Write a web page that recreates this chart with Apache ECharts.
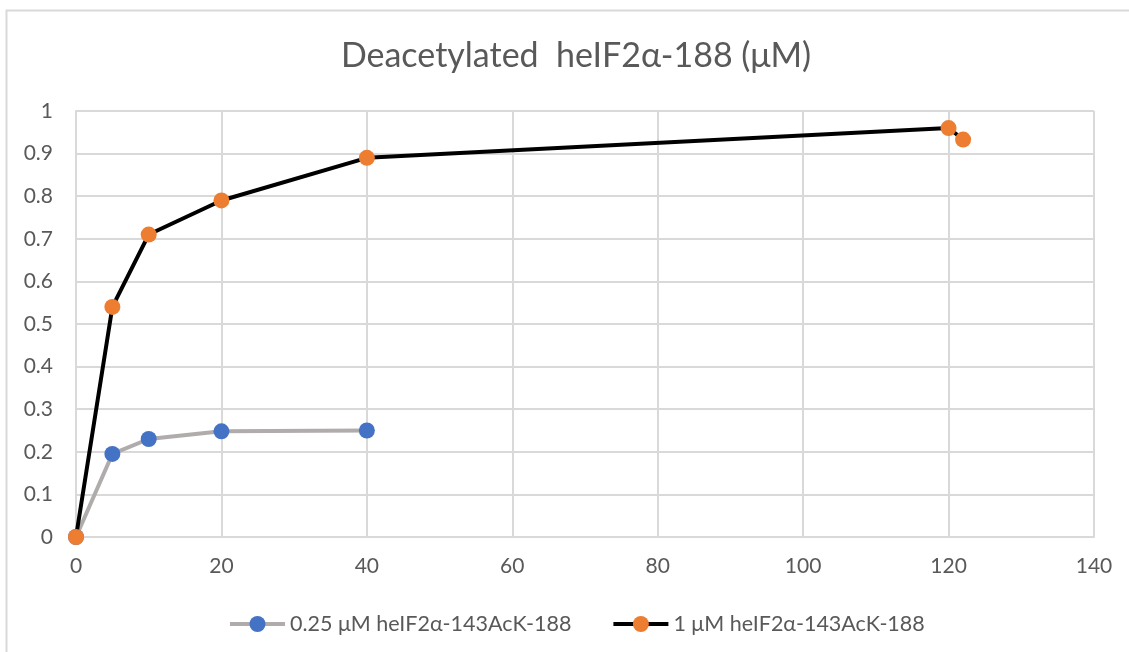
<!DOCTYPE html>
<html>
<head>
<meta charset="utf-8">
<script src="https://cdn.jsdelivr.net/npm/echarts@6/dist/echarts.min.js"></script>
<style>
  html, body { margin: 0; padding: 0; background: #fff; }
  #chart { width: 1129px; height: 652px; }
</style>
</head>
<body>
<div id="chart"></div>
<script>
// Time points (x) and deacetylated amounts (µM)
const lowTimes = [0, 5, 10, 20, 40];
const lowValues = [0, 0.195, 0.23, 0.248, 0.25];
const highTimes = [0, 5, 10, 20, 40, 120, 122];
const highValues = [0, 0.54, 0.71, 0.79, 0.89, 0.96, 0.933];

const titleText = 'Deacetylated  heIF2\u03B1-188 (\u03BCM)';
const lowName = '0.25 \u03BCM heIF2\u03B1-143AcK-188';
const highName = '1 \u03BCM heIF2\u03B1-143AcK-188';

const pairs = (xs, ys) => xs.map((x, i) => [x, ys[i]]);

const textColor = '#595959';
const gridColor = '#d9d9d9';
const font = 'Lato, Open Sans, sans-serif';

const chart = echarts.init(document.getElementById('chart'));
chart.setOption({
  animation: false,
  backgroundColor: '#fff',
  textStyle: { fontFamily: font },
  graphic: [{
    type: 'rect',
    shape: { x: 6.5, y: 10.5, width: 1140, height: 660 },
    style: { fill: 'none', stroke: '#d9d9d9', lineWidth: 2 },
    silent: true
  }],
  title: {
    text: titleText,
    left: 571,
    textAlign: 'center',
    top: 34,
    textStyle: { color: textColor, fontSize: 34, fontWeight: 'normal', fontFamily: font }
  },
  legend: {
    top: 608,
    left: 223,
    itemGap: 40,
    itemWidth: 55,
    itemHeight: 20,
    lineStyle: { width: 4 },
    textStyle: { color: textColor, fontSize: 21.5, fontFamily: font },
    data: [lowName, highName]
  },
  grid: { left: 76, right: 35, top: 111, bottom: 115, containLabel: false },
  xAxis: {
    type: 'value',
    min: 0, max: 140, interval: 20,
    axisLine: { show: true, lineStyle: { color: gridColor, width: 2 } },
    axisTick: { show: false },
    axisLabel: { color: textColor, fontSize: 21, margin: 19 },
    splitLine: { show: true, lineStyle: { color: gridColor, width: 2 } }
  },
  yAxis: {
    type: 'value',
    min: 0, max: 1, interval: 0.1,
    axisLine: { show: true, lineStyle: { color: gridColor, width: 2 } },
    axisTick: { show: false },
    axisLabel: { color: textColor, fontSize: 21, margin: 23 },
    splitLine: { show: true, lineStyle: { color: gridColor, width: 2 } }
  },
  series: [
    {
      name: lowName,
      type: 'line',
      data: pairs(lowTimes, lowValues),
      symbol: 'circle',
      symbolSize: 16,
      lineStyle: { color: '#b0acab', width: 4 },
      itemStyle: { color: '#4472C4' },
      z: 2
    },
    {
      name: highName,
      type: 'line',
      data: pairs(highTimes, highValues),
      symbol: 'circle',
      symbolSize: 16,
      lineStyle: { color: '#000000', width: 4 },
      itemStyle: { color: '#ED7D31' },
      z: 3
    }
  ]
});
</script>
</body>
</html>
